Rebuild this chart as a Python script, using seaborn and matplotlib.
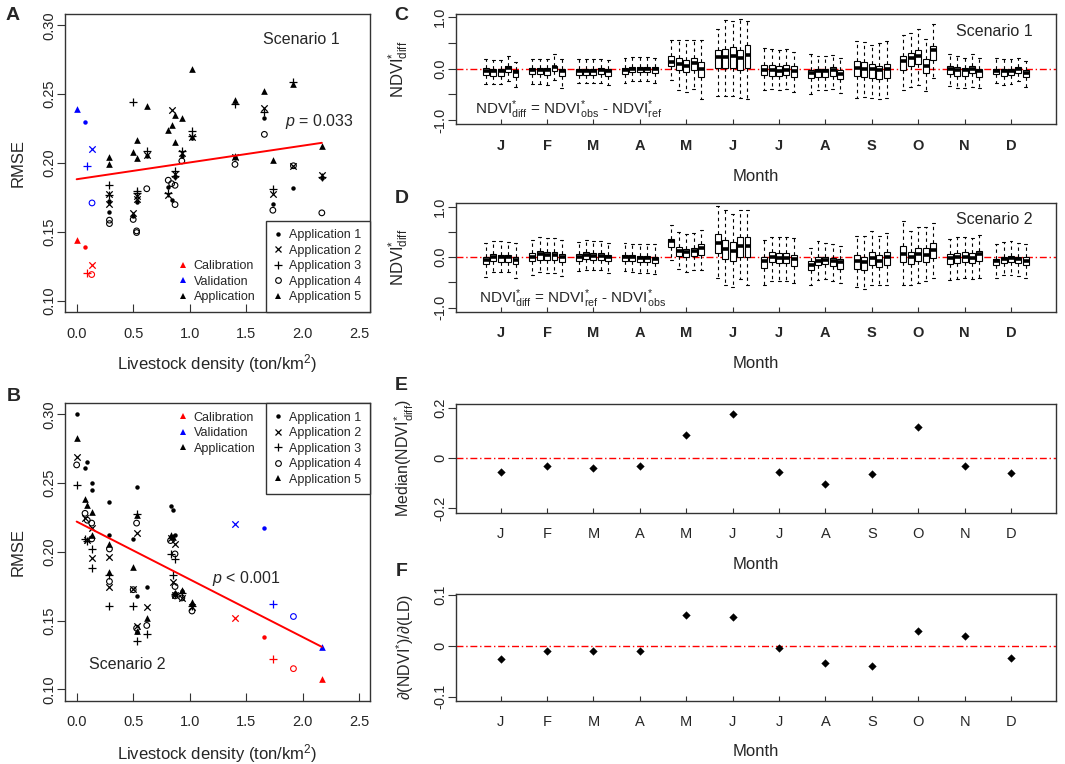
import numpy as np
import pandas as pd
import seaborn as sns
import matplotlib.pyplot as plt
from matplotlib.lines import Line2D

# ---------------- data ----------------
months = ['J', 'F', 'M', 'A', 'M', 'J', 'J', 'A', 'S', 'O', 'N', 'D']
groups = ['Calibration', 'Validation', 'Application']
apps = ['Application 1', 'Application 2', 'Application 3', 'Application 4', 'Application 5']

# (livestock density, RMSE, group)  group: c = calibration, v = validation, a = application
s1_app1 = [(0.074, 0.139, 'c'), (0.074, 0.230, 'v'),
           (0.29, 0.1725, 'a'), (0.29, 0.1645, 'a'), (0.50, 0.1615, 'a'), (0.53, 0.172, 'a'),
           (0.62, 0.205, 'a'), (0.81, 0.1825, 'a'), (0.84, 0.1734, 'a'), (0.87, 0.190, 'a'),
           (0.93, 0.205, 'a'), (1.02, 0.218, 'a'), (1.40, 0.2035, 'a'), (1.66, 0.233, 'a'),
           (1.735, 0.170, 'a'), (1.917, 0.1822, 'a'), (2.168, 0.189, 'a')]
s1_app2 = [(0.133, 0.126, 'c'), (0.133, 0.210, 'v'),
           (0.29, 0.1775, 'a'), (0.29, 0.170, 'a'), (0.50, 0.1635, 'a'), (0.53, 0.176, 'a'),
           (0.53, 0.1735, 'a'), (0.62, 0.2056, 'a'), (0.81, 0.1765, 'a'), (0.84, 0.2388, 'a'),
           (0.87, 0.192, 'a'), (0.93, 0.2075, 'a'), (1.02, 0.219, 'a'), (1.40, 0.2045, 'a'),
           (1.66, 0.240, 'a'), (1.735, 0.1778, 'a'), (1.917, 0.198, 'a'), (2.168, 0.191, 'a')]
s1_app3 = [(0.094, 0.120, 'c'), (0.094, 0.198, 'v'),
           (0.29, 0.1843, 'a'), (0.29, 0.1765, 'a'), (0.50, 0.2443, 'a'), (0.53, 0.180, 'a'),
           (0.53, 0.1785, 'a'), (0.62, 0.2085, 'a'), (0.81, 0.1785, 'a'), (0.87, 0.194, 'a'),
           (0.87, 0.1905, 'a'), (0.93, 0.2085, 'a'), (1.02, 0.223, 'a'), (1.02, 0.2195, 'a'),
           (1.40, 0.243, 'a'), (1.66, 0.237, 'a'), (1.735, 0.1814, 'a'), (1.917, 0.2589, 'a'),
           (2.168, 0.190, 'a')]
s1_app4 = [(0.133, 0.119, 'c'), (0.136, 0.171, 'v'),
           (0.29, 0.1585, 'a'), (0.29, 0.156, 'a'), (0.50, 0.159, 'a'), (0.53, 0.1507, 'a'),
           (0.53, 0.1495, 'a'), (0.62, 0.1813, 'a'), (0.81, 0.1875, 'a'), (0.84, 0.185, 'a'),
           (0.87, 0.1838, 'a'), (0.87, 0.1698, 'a'), (0.93, 0.2015, 'a'), (1.40, 0.199, 'a'),
           (1.66, 0.2208, 'a'), (1.735, 0.1657, 'a'), (1.917, 0.198, 'a'), (2.168, 0.1638, 'a')]
s1_app5 = [(0.0, 0.144, 'c'), (0.0, 0.239, 'v'),
           (0.29, 0.204, 'a'), (0.29, 0.199, 'a'), (0.50, 0.208, 'a'), (0.53, 0.217, 'a'),
           (0.53, 0.2035, 'a'), (0.62, 0.2417, 'a'), (0.81, 0.2238, 'a'), (0.84, 0.2274, 'a'),
           (0.87, 0.2347, 'a'), (0.87, 0.2153, 'a'), (0.93, 0.233, 'a'), (1.02, 0.2685, 'a'),
           (1.40, 0.2455, 'a'), (1.40, 0.205, 'a'), (1.66, 0.2523, 'a'), (1.735, 0.202, 'a'),
           (1.917, 0.2572, 'a'), (2.168, 0.2124, 'a')]

s2_app1 = [(1.66, 0.138, 'c'), (1.66, 0.217, 'v'),
           (0.0, 0.300, 'a'), (0.074, 0.2608, 'a'), (0.094, 0.2656, 'a'), (0.133, 0.2499, 'a'),
           (0.133, 0.2448, 'a'), (0.29, 0.2359, 'a'), (0.29, 0.2125, 'a'), (0.53, 0.2468, 'a'),
           (0.50, 0.2094, 'a'), (0.53, 0.1678, 'a'), (0.53, 0.1419, 'a'), (0.62, 0.1748, 'a'),
           (0.83, 0.2335, 'a'), (0.85, 0.2306, 'a'), (0.87, 0.2123, 'a'), (0.87, 0.1700, 'a'),
           (0.93, 0.1715, 'a'), (1.02, 0.162, 'a')]
s2_app2 = [(1.401, 0.1518, 'c'), (1.401, 0.2202, 'v'),
           (0.0, 0.269, 'a'), (0.074, 0.2246, 'a'), (0.094, 0.2085, 'a'), (0.133, 0.2173, 'a'),
           (0.133, 0.1956, 'a'), (0.29, 0.1960, 'a'), (0.29, 0.1744, 'a'), (0.53, 0.2137, 'a'),
           (0.50, 0.1731, 'a'), (0.53, 0.1462, 'a'), (0.62, 0.1598, 'a'), (0.83, 0.2100, 'a'),
           (0.87, 0.2058, 'a'), (0.85, 0.1779, 'a'), (0.87, 0.1685, 'a'), (0.93, 0.1667, 'a'),
           (1.02, 0.160, 'a')]
s2_app3 = [(1.735, 0.1224, 'c'), (1.735, 0.1622, 'v'),
           (0.0, 0.2487, 'a'), (0.074, 0.2094, 'a'), (0.094, 0.2081, 'a'), (0.133, 0.2021, 'a'),
           (0.133, 0.1883, 'a'), (0.29, 0.1830, 'a'), (0.29, 0.1605, 'a'), (0.53, 0.2275, 'a'),
           (0.50, 0.1605, 'a'), (0.53, 0.135, 'a'), (0.62, 0.1404, 'a'), (0.83, 0.1985, 'a'),
           (0.85, 0.1835, 'a'), (0.87, 0.1946, 'a'), (0.87, 0.169, 'a'), (0.93, 0.170, 'a'),
           (1.02, 0.161, 'a')]
s2_app4 = [(1.917, 0.1151, 'c'), (1.917, 0.153, 'v'),
           (0.0, 0.2632, 'a'), (0.074, 0.228, 'a'), (0.094, 0.223, 'a'), (0.133, 0.2209, 'a'),
           (0.133, 0.2094, 'a'), (0.29, 0.2021, 'a'), (0.29, 0.1785, 'a'), (0.53, 0.2209, 'a'),
           (0.50, 0.1725, 'a'), (0.53, 0.1445, 'a'), (0.62, 0.1465, 'a'), (0.83, 0.2082, 'a'),
           (0.87, 0.1985, 'a'), (0.87, 0.1748, 'a'), (0.87, 0.168, 'a'), (0.93, 0.1665, 'a'),
           (1.02, 0.157, 'a')]
s2_app5 = [(2.168, 0.1074, 'c'), (2.168, 0.1309, 'v'),
           (0.0, 0.283, 'a'), (0.074, 0.2384, 'a'), (0.094, 0.2343, 'a'), (0.133, 0.2287, 'a'),
           (0.133, 0.2120, 'a'), (0.29, 0.2057, 'a'), (0.29, 0.1852, 'a'), (0.53, 0.2265, 'a'),
           (0.50, 0.1888, 'a'), (0.53, 0.1425, 'a'), (0.62, 0.1518, 'a'), (0.83, 0.2123, 'a'),
           (0.85, 0.2106, 'a'), (0.87, 0.1700, 'a'), (0.93, 0.172, 'a'), (1.02, 0.1634, 'a')]

# red regression lines: (intercept, slope)
s1_fit = (0.1882, 0.0122)
s2_fit = (0.2220, -0.0420)

# monthly box summaries (whisker low, Q1, median, Q3, whisker high), 5 applications per month
c_hi = [[0.18, 0.16, 0.16, 0.25, 0.12], [0.19, 0.19, 0.19, 0.29, 0.18], [0.18, 0.18, 0.18, 0.19, 0.16],
        [0.21, 0.23, 0.23, 0.23, 0.21], [0.56, 0.55, 0.55, 0.55, 0.55], [0.77, 0.94, 0.92, 0.97, 0.92],
        [0.40, 0.38, 0.36, 0.38, 0.32], [0.29, 0.24, 0.24, 0.27, 0.21], [0.53, 0.51, 0.47, 0.49, 0.53],
        [0.66, 0.69, 0.77, 0.58, 0.86], [0.29, 0.25, 0.21, 0.29, 0.21], [0.21, 0.19, 0.19, 0.21, 0.14]]
c_q3 = [[0.01, 0.00, 0.00, 0.06, -0.02], [0.01, 0.01, 0.01, 0.06, 0.00], [0.00, 0.00, 0.00, 0.01, 0.00],
        [0.01, 0.03, 0.03, 0.03, 0.03], [0.25, 0.21, 0.16, 0.21, 0.12], [0.37, 0.38, 0.42, 0.37, 0.47],
        [0.08, 0.08, 0.05, 0.08, 0.05], [-0.02, 0.00, 0.00, 0.03, -0.03], [0.14, 0.12, 0.10, 0.06, 0.10],
        [0.24, 0.31, 0.37, 0.18, 0.45], [0.05, 0.03, 0.01, 0.05, 0.00], [0.00, 0.00, 0.00, 0.03, -0.03]]
c_med = [[-0.04, -0.05, -0.05, 0.01, -0.06], [-0.03, -0.03, -0.03, 0.03, -0.05], [-0.05, -0.04, -0.04, -0.03, -0.05],
         [-0.03, -0.01, -0.01, -0.01, -0.01], [0.12, 0.10, 0.06, 0.11, -0.01], [0.23, 0.23, 0.25, 0.21, 0.27],
         [-0.02, -0.03, -0.04, -0.02, -0.04], [-0.08, -0.05, -0.05, -0.03, -0.10], [0.01, 0.00, -0.01, -0.03, 0.00],
         [0.14, 0.21, 0.25, 0.06, 0.36], [-0.01, -0.03, -0.03, 0.00, -0.04], [-0.04, -0.04, -0.04, -0.01, -0.08]]
c_q1 = [[-0.12, -0.14, -0.14, -0.07, -0.16], [-0.10, -0.10, -0.12, -0.05, -0.14], [-0.13, -0.12, -0.12, -0.10, -0.14],
        [-0.10, -0.07, -0.07, -0.07, -0.08], [0.06, -0.03, -0.07, -0.03, -0.16], [0.01, 0.01, 0.01, -0.02, 0.01],
        [-0.13, -0.14, -0.15, -0.13, -0.16], [-0.19, -0.16, -0.16, -0.14, -0.21], [-0.14, -0.16, -0.18, -0.21, -0.19],
        [-0.02, 0.05, 0.10, -0.08, 0.16], [-0.10, -0.14, -0.14, -0.08, -0.16], [-0.10, -0.14, -0.12, -0.08, -0.16]]
c_lo = [[-0.29, -0.29, -0.29, -0.25, -0.36], [-0.29, -0.29, -0.31, -0.23, -0.38], [-0.28, -0.28, -0.28, -0.27, -0.31],
        [-0.27, -0.25, -0.25, -0.25, -0.27], [-0.23, -0.41, -0.45, -0.40, -0.59], [-0.53, -0.54, -0.53, -0.58, -0.60],
        [-0.41, -0.40, -0.41, -0.40, -0.46], [-0.49, -0.42, -0.42, -0.40, -0.47], [-0.57, -0.55, -0.58, -0.60, -0.57],
        [-0.41, -0.36, -0.31, -0.44, -0.18], [-0.34, -0.38, -0.38, -0.36, -0.38], [-0.28, -0.31, -0.29, -0.25, -0.36]]

d_hi = [[0.27, 0.31, 0.31, 0.29, 0.27], [0.34, 0.39, 0.38, 0.37, 0.33], [0.29, 0.33, 0.31, 0.31, 0.28],
        [0.27, 0.25, 0.25, 0.25, 0.25], [0.64, 0.49, 0.46, 0.47, 0.54], [1.01, 0.93, 0.86, 0.93, 0.93],
        [0.34, 0.39, 0.39, 0.39, 0.38], [0.18, 0.31, 0.27, 0.25, 0.23], [0.42, 0.42, 0.51, 0.42, 0.47],
        [0.71, 0.52, 0.59, 0.59, 0.67], [0.36, 0.39, 0.39, 0.38, 0.44], [0.25, 0.29, 0.31, 0.28, 0.26]]
d_q3 = [[0.01, 0.07, 0.05, 0.05, 0.01], [0.08, 0.13, 0.11, 0.10, 0.07], [0.07, 0.10, 0.08, 0.08, 0.05],
        [0.05, 0.05, 0.03, 0.03, 0.01], [0.36, 0.21, 0.16, 0.18, 0.25], [0.46, 0.33, 0.29, 0.39, 0.39],
        [0.01, 0.10, 0.08, 0.08, 0.05], [-0.08, 0.00, 0.01, -0.01, -0.03], [0.05, 0.01, 0.10, 0.05, 0.10],
        [0.23, 0.10, 0.18, 0.18, 0.27], [0.07, 0.08, 0.10, 0.08, 0.13], [-0.03, 0.01, 0.03, 0.01, 0.00]]
d_med = [[-0.05, 0.00, 0.00, 0.00, -0.05], [0.01, 0.07, 0.05, 0.05, 0.00], [0.00, 0.05, 0.03, 0.03, 0.00],
         [0.01, 0.00, -0.01, -0.01, -0.03], [0.31, 0.13, 0.10, 0.13, 0.18], [0.28, 0.16, 0.13, 0.23, 0.23],
         [-0.08, 0.01, -0.01, -0.01, -0.03], [-0.16, -0.07, -0.05, -0.08, -0.10], [-0.07, -0.10, -0.01, -0.07, 0.01],
         [0.07, 0.00, 0.07, 0.05, 0.14], [-0.01, 0.00, 0.00, -0.01, 0.07], [-0.07, -0.03, -0.02, -0.03, -0.07]]
d_q1 = [[-0.14, -0.08, -0.10, -0.10, -0.14], [-0.08, -0.05, -0.05, -0.05, -0.10], [-0.08, -0.03, -0.05, -0.05, -0.08],
        [-0.07, -0.08, -0.10, -0.10, -0.12], [0.21, 0.03, 0.00, 0.03, 0.05], [0.08, -0.03, -0.07, 0.00, 0.01],
        [-0.21, -0.10, -0.12, -0.12, -0.18], [-0.26, -0.16, -0.14, -0.18, -0.23], [-0.23, -0.25, -0.16, -0.20, -0.16],
        [-0.10, -0.14, -0.07, -0.10, -0.01], [-0.13, -0.12, -0.10, -0.12, -0.08], [-0.16, -0.12, -0.10, -0.12, -0.16]]
d_lo = [[-0.39, -0.29, -0.29, -0.29, -0.42], [-0.36, -0.29, -0.31, -0.31, -0.38], [-0.27, -0.25, -0.26, -0.26, -0.31],
        [-0.28, -0.29, -0.31, -0.31, -0.34], [-0.05, -0.23, -0.29, -0.26, -0.26], [-0.41, -0.56, -0.59, -0.44, -0.56],
        [-0.56, -0.47, -0.47, -0.47, -0.51], [-0.56, -0.46, -0.44, -0.47, -0.51], [-0.59, -0.62, -0.56, -0.56, -0.56],
        [-0.56, -0.56, -0.51, -0.47, -0.42], [-0.46, -0.44, -0.42, -0.44, -0.41], [-0.42, -0.36, -0.36, -0.38, -0.41]]

e_median = [-0.055, -0.031, -0.040, -0.031, 0.094, 0.177, -0.055, -0.103, -0.065, 0.125, -0.031, -0.059]
f_slope = [-0.026, -0.010, -0.011, -0.011, 0.060, 0.057, -0.005, -0.034, -0.040, 0.030, 0.020, -0.024]

# ---------------- style ----------------
sns.set_style('ticks')
plt.rcParams['font.family'] = ['Liberation Sans', 'DejaVu Sans']
plt.rcParams['mathtext.fontset'] = 'custom'
plt.rcParams['mathtext.rm'] = 'Liberation Sans'
plt.rcParams['mathtext.it'] = 'Liberation Sans:italic'
plt.rcParams['mathtext.bf'] = 'Liberation Sans:bold'
plt.rcParams['axes.edgecolor'] = '#333333'
plt.rcParams['axes.linewidth'] = 1.0

grp_color = {'c': '#ff0000', 'v': '#0000ff', 'a': 'black'}
app_style = {
    'Application 1': dict(marker='o', ms=3.2, lw=0.0, open=False),
    'Application 2': dict(marker='x', ms=4.6, lw=0.9, open=False),
    'Application 3': dict(marker='+', ms=5.6, lw=0.9, open=False),
    'Application 4': dict(marker='o', ms=4.1, lw=0.8, open=True),
    'Application 5': dict(marker='^', ms=4.8, lw=0.0, open=False),
}
TICK = 10.5
LAB = 12

fig = plt.figure(figsize=(10.65, 7.64), dpi=100)
W, H = 1065.0, 764.0


def add_ax(left, top, right, bottom):
    return fig.add_axes([left / W, 1 - bottom / H, (right - left) / W, (bottom - top) / H])


def common_ticks(ax, xlen):
    ax.tick_params(axis='x', direction='in', length=xlen, width=0.8, color='#333333',
                   pad=10.5, labelsize=TICK)
    ax.tick_params(axis='y', direction='out', length=5.5, width=0.8, color='#333333',
                   pad=1, labelsize=TICK)


def scatter_panel(ax, app_points, fit, upper_legend):
    all_ld = []
    for app, pts in zip(apps, app_points):
        df = pd.DataFrame(pts, columns=['ld', 'rmse', 'grp'])
        all_ld.extend(df['ld'])
        st = app_style[app]
        for g, sub in df.groupby('grp'):
            col = grp_color[g]
            kw = dict(marker=st['marker'], s=st['ms'] ** 2, linewidth=st['lw'])
            if st['marker'] in ('o', '^'):
                kw['edgecolor'] = col
            if st['open']:
                kw['facecolor'] = 'none'
            sns.scatterplot(data=sub, x='ld', y='rmse', color=col, ax=ax, legend=False,
                            zorder=3, **kw)
    xs = np.array([min(all_ld), max(all_ld)])
    sns.lineplot(x=xs, y=fit[0] + fit[1] * xs, color='#ff0000', linewidth=1.4, ax=ax, zorder=4)

    ax.set_xlim(-0.103, 2.594)
    ax.set_ylim(0.0918, 0.3082)
    ax.set_xticks([0, 0.5, 1.0, 1.5, 2.0, 2.5])
    ax.set_xticklabels(['0.0', '0.5', '1.0', '1.5', '2.0', '2.5'])
    ax.set_yticks([0.10, 0.15, 0.20, 0.25, 0.30])
    ax.set_yticklabels(['0.10', '0.15', '0.20', '0.25', '0.30'], rotation=90, va='center')
    common_ticks(ax, 5.5)
    ax.set_xlabel('Livestock density (ton/km$^2$)', fontsize=LAB)
    ax.set_ylabel('RMSE', fontsize=LAB)
    ax.yaxis.set_label_coords(-0.128, 0.5)

    yanc = 1.0 if upper_legend else 0.0
    cat_h = [Line2D([], [], ls='none', marker='^', markersize=5, markerfacecolor=grp_color[g],
                    markeredgewidth=0) for g in 'cva']
    leg_kw = dict(fontsize=9, handlelength=0.6, handletextpad=0.56, labelspacing=0.28,
                  borderpad=0.7, borderaxespad=0)
    leg1 = ax.legend(cat_h, groups, loc='upper left' if upper_legend else 'lower left',
                     bbox_to_anchor=(0.345, yanc), frameon=False, **leg_kw)
    ax.add_artist(leg1)
    app_h = []
    for app in apps:
        st = app_style[app]
        app_h.append(Line2D([], [], ls='none', marker=st['marker'], markersize=st['ms'],
                            color='black', markerfacecolor='none' if st['open'] else 'black',
                            markeredgewidth=st['lw'] if st['lw'] > 0 else 0))
    leg2 = ax.legend(app_h, apps, loc='upper right' if upper_legend else 'lower right',
                     bbox_to_anchor=(1.0, yanc), frameon=True, fancybox=False,
                     edgecolor='#333333', framealpha=1, **leg_kw)
    leg2.get_frame().set_linewidth(1.0)
    leg2.set_zorder(5)


def box_panel(ax, lo, q1, med, q3, hi):
    step = 0.16
    rows = []
    for m in range(12):
        for j in range(5):
            pos = m + 1 + (j - 2) * step
            for v in (lo[m][j], q1[m][j], med[m][j], q3[m][j], hi[m][j]):
                rows.append((round(pos, 3), v))
    df = pd.DataFrame(rows, columns=['pos', 'val'])
    ax.axhline(0, color='#ff0000', linewidth=1.0, linestyle=(0, (5, 2, 1, 2)), zorder=1)
    sns.boxplot(data=df, x='pos', y='val', native_scale=True, whis=(0, 100), width=0.8,
                color='white', linecolor='black', linewidth=0.8, fliersize=0, ax=ax,
                medianprops=dict(linewidth=2.6, solid_capstyle='butt'),
                whiskerprops=dict(linestyle=(0, (3, 3))))
    ax.set_xlim(0.037, 12.97)
    ax.set_ylim(-1.078, 1.064)
    ax.set_xticks(range(1, 13))
    ax.set_xticklabels(months, fontweight='bold', fontsize=11)
    ax.set_yticks([-1.0, -0.5, 0.0, 0.5, 1.0])
    ax.set_yticklabels(['-1.0', '', '0.0', '', '1.0'], rotation=90, va='center')
    common_ticks(ax, 3.5)
    ax.set_xlabel('Month', fontsize=LAB)
    ax.xaxis.set_label_coords(0.5, -0.41)
    ax.set_ylabel(r'NDVI$^{*}_{\mathrm{diff}}$', fontsize=LAB)
    ax.yaxis.set_label_coords(-0.075, 0.5)


def point_panel(ax, vals, lim, ticks, ticklabels, ylabel):
    ax.axhline(0, color='#ff0000', linewidth=1.0, linestyle=(0, (5, 2, 1, 2)), zorder=1)
    sns.scatterplot(x=np.arange(1, 13), y=vals, marker='D', s=15, color='black',
                    edgecolor='black', linewidth=0.3, ax=ax, zorder=3)
    ax.set_xlim(0.037, 12.97)
    ax.set_ylim(*lim)
    ax.set_xticks(range(1, 13))
    ax.set_xticklabels(months, fontsize=10.5)
    ax.set_yticks(ticks)
    ax.set_yticklabels(ticklabels, rotation=90, va='center')
    common_ticks(ax, 3.5)
    ax.set_xlabel('Month', fontsize=LAB)
    ax.xaxis.set_label_coords(0.5, -0.41)
    ax.set_ylabel(ylabel, fontsize=11.5)
    ax.yaxis.set_label_coords(-0.067, 0.5)


# ---------------- panels ----------------
axA = add_ax(65, 14, 370, 312)
scatter_panel(axA, [s1_app1, s1_app2, s1_app3, s1_app4, s1_app5], s1_fit, False)
axA.xaxis.set_label_coords(0.5, -0.134)
axA.text(0.776, 0.913, 'Scenario 1', transform=axA.transAxes, ha='center', va='center', fontsize=11.5)
axA.text(0.721, 0.639, r'$p$ = 0.033', transform=axA.transAxes, ha='left', va='center', fontsize=11.5)

axB = add_ax(65, 403, 370, 700.7)
scatter_panel(axB, [s2_app1, s2_app2, s2_app3, s2_app4, s2_app5], s2_fit, True)
axB.xaxis.set_label_coords(0.5, -0.139)
axB.text(0.203, 0.123, 'Scenario 2', transform=axB.transAxes, ha='center', va='center', fontsize=11.5)
axB.text(0.482, 0.411, r'$p$ < 0.001', transform=axB.transAxes, ha='left', va='center', fontsize=11.5)

axC = add_ax(456, 14, 1056, 124)
box_panel(axC, c_lo, c_q1, c_med, c_q3, c_hi)
axC.text(0.897, 0.839, 'Scenario 1', transform=axC.transAxes, ha='center', va='center', fontsize=11.5)
axC.text(0.032, 0.09, r'NDVI$^{*}_{\mathrm{diff}}$ = NDVI$^{*}_{\mathrm{obs}}$ - NDVI$^{*}_{\mathrm{ref}}$',
         transform=axC.transAxes, ha='left', va='baseline', fontsize=11)

axD = add_ax(456, 203.3, 1056, 311.7)
box_panel(axD, d_lo, d_q1, d_med, d_q3, d_hi)
axD.text(0.8975, 0.846, 'Scenario 2', transform=axD.transAxes, ha='center', va='center', fontsize=11.5)
axD.text(0.038, 0.077, r'NDVI$^{*}_{\mathrm{diff}}$ = NDVI$^{*}_{\mathrm{ref}}$ - NDVI$^{*}_{\mathrm{obs}}$',
         transform=axD.transAxes, ha='left', va='baseline', fontsize=11)

axE = add_ax(456, 404, 1056, 512.7)
point_panel(axE, e_median, (-0.218, 0.217), [-0.2, 0, 0.2], ['-0.2', '0', '0.2'],
            r'Median(NDVI$^{*}_{\mathrm{diff}}$)')

axF = add_ax(456, 594, 1056, 700.7)
point_panel(axF, f_slope, (-0.108, 0.102), [-0.1, 0, 0.1], ['-0.1', '0', '0.1'],
            '\u2202(NDVI$^{*}$)/\u2202(LD)')

for letter, (px, py) in {'A': (13, 15), 'B': (14, 396), 'C': (401.5, 15),
                         'D': (401.5, 198), 'E': (401.5, 385), 'F': (401.5, 572)}.items():
    fig.text(px / W, 1 - py / H, letter, ha='center', va='center', fontsize=14, fontweight='bold')

fig.savefig('out.png', dpi=100)
